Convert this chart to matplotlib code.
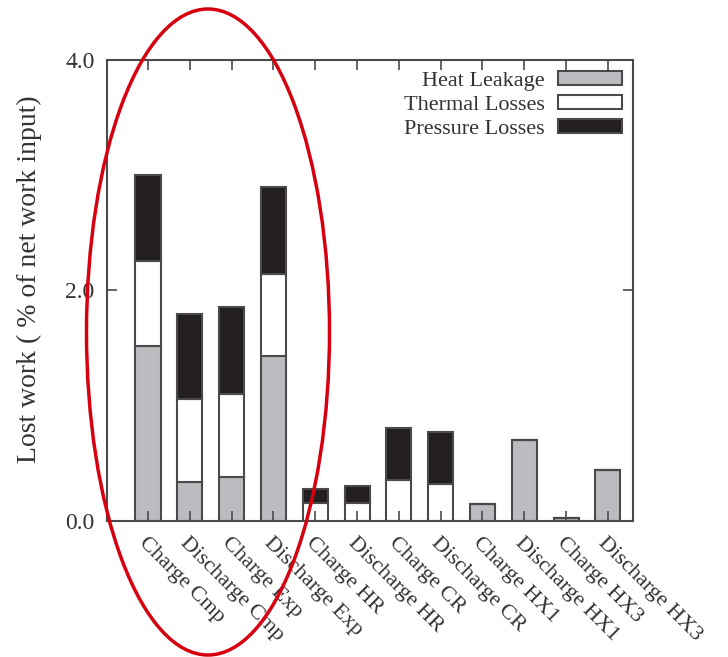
import matplotlib
matplotlib.use("Agg")
import matplotlib.pyplot as plt
from matplotlib.patches import Ellipse
import numpy as np

etiquetas = ["Charge Cmp", "Discharge Cmp", "Charge Exp", "Discharge Exp",
             "Charge HR", "Discharge HR", "Charge CR", "Discharge CR",
             "Charge HX1", "Discharge HX1", "Charge HX3", "Discharge HX3"]
heat_leakage = [1.52, 0.34, 0.38, 1.43, 0.0, 0.0, 0.0, 0.0, 0.15, 0.70, 0.03, 0.44]
thermal_losses = [0.74, 0.72, 0.72, 0.71, 0.16, 0.16, 0.36, 0.32, 0.0, 0.0, 0.0, 0.0]
pressure_losses = [0.74, 0.74, 0.76, 0.76, 0.12, 0.14, 0.45, 0.45, 0.0, 0.0, 0.0, 0.0]

plt.rcParams['font.family'] = ['Liberation Serif', 'DejaVu Serif']

fig = plt.figure(figsize=(7.28, 6.57), dpi=100)
ax = fig.add_axes([0.147, 0.207, 0.7225, 0.7017])

x = np.arange(len(etiquetas))
borde = "#4a4a4a"
texto = "#333333"
ancho = 0.6
hl = np.array(heat_leakage)
tl = np.array(thermal_losses)
pl = np.array(pressure_losses)

ax.bar(x, hl, ancho, color="#bbbcc0", edgecolor=borde, linewidth=1.5,
       label="Heat Leakage")
ax.bar(x, tl, ancho, bottom=hl, color="white", edgecolor=borde,
       linewidth=1.5, label="Thermal Losses")
ax.bar(x, pl, ancho, bottom=hl + tl, color="#231f20", edgecolor=borde,
       linewidth=1.5, label="Pressure Losses")

ax.set_xlim(-0.98, 11.6)
ax.set_ylim(0, 4.0)
ax.set_yticks([0, 2, 4])
ax.set_yticklabels(["0.0", "2.0", "4.0"])
ax.set_xticks(x)
ax.set_xticklabels(etiquetas, rotation=-45, ha="left", rotation_mode="anchor")
ax.tick_params(axis="both", direction="in", length=7, width=1.2, color=borde,
               labelsize=16, labelcolor=texto, top=True, right=True)
ax.tick_params(axis="y", pad=9, labelsize=17)
ax.tick_params(axis="x", pad=9)
for s in ax.spines.values():
    s.set_color(borde)
    s.set_linewidth(1.5)

ax.set_ylabel("Lost work ( % of net work input)", fontsize=20, color=texto)
ax.yaxis.set_label_coords(-0.123, 0.525)

leg = ax.legend(loc="upper right", frameon=False, markerfirst=False,
                handlelength=2.9, handleheight=0.55, fontsize=16,
                labelspacing=0.2, borderaxespad=0.25, handletextpad=0.6,
                bbox_to_anchor=(1.007, 1.007))
for t in leg.get_texts():
    t.set_color(texto)

# ovalo rojo
elipse = Ellipse((208 / 728, 1 - 332 / 657), 243 / 728, 646 / 657,
                 transform=fig.transFigure, fill=False, edgecolor="#d7000f",
                 linewidth=2.5, clip_on=False)
fig.add_artist(elipse)

fig.savefig("out.png", dpi=100)
